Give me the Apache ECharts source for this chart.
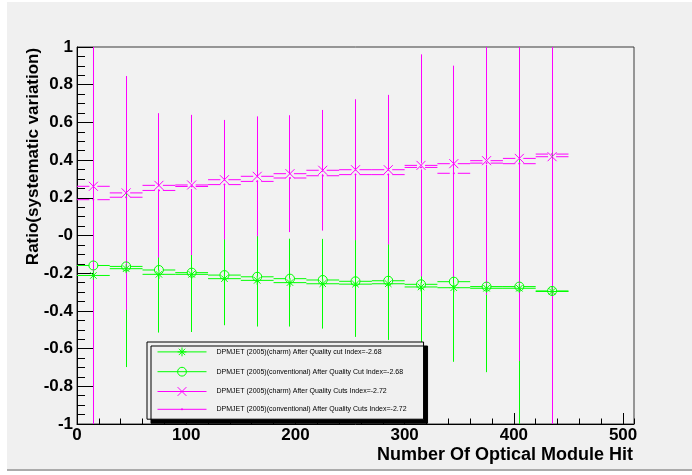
<!DOCTYPE html>
<html>
<head>
<meta charset="utf-8">
<script src="https://cdn.jsdelivr.net/npm/echarts@6/dist/echarts.min.js"></script>
<style>
  html, body { margin: 0; padding: 0; background: #ffffff; }
  #pad { position: absolute; left: 7px; top: 2px; width: 685px; height: 467px;
         background: #f0f0f0; border-bottom: 2px solid #ababab; }
  #chart { position: absolute; left: 0; top: 0; width: 692px; height: 475px; }
</style>
</head>
<body>
<div id="pad"></div>
<div id="chart"></div>
<script>
// Bin centres in number of hit optical modules, with the half width of each bin
const binCenters   = [15, 45, 75, 105, 135, 165, 195, 225, 255, 285, 315, 345, 375, 405, 435];
const binHalfWidth = [15, 15, 15, 15, 15, 15, 15, 15, 15, 15, 15, 15, 15, 15, 15];

// DPMJET (2005) charm, after quality cut, index -2.68
const charmCut68     = [-0.212, -0.176, -0.206, -0.206, -0.229, -0.238, -0.250, -0.256, -0.258, -0.256, -0.273, -0.277, -0.280, -0.280, -0.297];
const charmCut68Err  = [0.55, 0.522, 0.309, 0.306, 0.247, 0.245, 0.233, 0.238, 0.280, 0.298, 0.295, 0.393, 0.445, 0.85, 1.0];
// DPMJET (2005) conventional, after quality cut, index -2.68
const convCut68      = [-0.159, -0.164, -0.183, -0.197, -0.210, -0.219, -0.229, -0.236, -0.243, -0.240, -0.259, -0.245, -0.271, -0.271, -0.294];
const convCut68Err   = [0.08, 0.07, 0.06, 0.07, 0.08, 0.09, 0.10, 0.12, 0.15, 0.18, 0.22, 0.30, 0.40, 0.50, 0.60];
// DPMJET (2005) charm, after quality cuts, index -2.72
const charmCuts72    = [0.261, 0.226, 0.266, 0.268, 0.296, 0.314, 0.328, 0.346, 0.349, 0.349, 0.372, 0.381, 0.397, 0.409, 0.418];
const charmCuts72Err = [1.3, 0.62, 0.383, 0.372, 0.317, 0.318, 0.310, 0.320, 0.374, 0.397, 0.589, 0.520, 0.617, 1.074, 1.5];
// DPMJET (2005) conventional, after quality cuts, index -2.72
const convCuts72     = [0.190, 0.203, 0.239, 0.260, 0.270, 0.287, 0.305, 0.317, 0.323, 0.323, 0.361, 0.330, 0.384, 0.381, 0.432];
const convCuts72Err  = [0.10, 0.08, 0.07, 0.08, 0.09, 0.10, 0.12, 0.15, 0.19, 0.22, 0.28, 0.55, 0.70, 0.90, 1.10];

const seriesNames = [
  'DPMJET (2005)(charm) After Quality cut Index=-2.68',
  'DPMJET (2005)(conventional) After Quality Cut Index=-2.68',
  'DPMJET (2005)(charm) After Quality Cuts Index=-2.72',
  'DPMJET (2005)(conventional) After Quality Cuts Index=-2.72'
];

const xTickLabels = ['0', '100', '200', '300', '400', '500'];
const yTickLabels = ['-1', '-0.8', '-0.6', '-0.4', '-0.2', '-0', '0.2', '0.4', '0.6', '0.8', '1'];

const GREEN = '#00ff00';
const MAGENTA = '#ff00ff';
const FONT = "'Liberation Sans', Arial, Helvetica, sans-serif";

// Marker outlines (stroked, unfilled)
const SYM_STAR   = 'path://M0,-5L0,5M-5,0L5,0M-3.6,-3.6L3.6,3.6M-3.6,3.6L3.6,-3.6';
const SYM_CIRCLE = 'path://M0,-5A5,5 0 1,1 0,5A5,5 0 1,1 0,-5Z';
const SYM_CROSS  = 'path://M-5,-5L5,5M-5,5L5,-5';
const SYM_DOT    = 'path://M-5,-5L-5,-5M5,5L5,5M-0.5,-0.5L0.5,-0.5L0.5,0.5L-0.5,0.5Z';

function points(values) {
  return binCenters.map((x, i) => [x, values[i]]);
}
function errorRows(values, errs) {
  return binCenters.map((x, i) => [x, values[i], binHalfWidth[i], errs[i]]);
}

// Horizontal (bin width) and vertical (statistical) error bars with a gap around the marker
function errorBars(name, color, values, errs) {
  const gap = 4;
  return {
    type: 'custom',
    name: name + ' errors',
    data: errorRows(values, errs),
    clip: true,
    silent: true,
    animation: false,
    renderItem: function (params, api) {
      const x = api.value(0), y = api.value(1), ex = api.value(2), ey = api.value(3);
      const c = api.coord([x, y]);
      const l = api.coord([x - ex, y]);
      const r = api.coord([x + ex, y]);
      const t = api.coord([x, y + ey]);
      const b = api.coord([x, y - ey]);
      const vx = Math.floor(c[0]) + 0.5;   // keep vertical bars on a pixel column
      const style = { stroke: color, lineWidth: 1, fill: null };
      const kids = [];
      if (c[0] - gap > l[0]) kids.push({ type: 'line', shape: { x1: l[0], y1: c[1], x2: c[0] - gap, y2: c[1] }, style });
      if (r[0] > c[0] + gap) kids.push({ type: 'line', shape: { x1: c[0] + gap, y1: c[1], x2: r[0], y2: c[1] }, style });
      if (t[1] < c[1] - gap) kids.push({ type: 'line', shape: { x1: vx, y1: c[1] - gap, x2: vx, y2: t[1] }, style });
      if (b[1] > c[1] + gap) kids.push({ type: 'line', shape: { x1: vx, y1: c[1] + gap, x2: vx, y2: b[1] }, style });
      return { type: 'group', children: kids };
    }
  };
}

function markers(name, color, values, symbol, filled) {
  return {
    type: 'line',
    name: name,
    data: points(values),
    symbol: symbol,
    symbolSize: 9,
    showSymbol: true,
    silent: true,
    animation: false,
    lineStyle: { color: color, width: 1, opacity: 0 },
    itemStyle: { color: filled ? color : 'none', borderColor: color, borderWidth: 1 },
    emphasis: { disabled: true }
  };
}

const chart = echarts.init(document.getElementById('chart'), null, { renderer: 'canvas' });

const axisText = { fontFamily: FONT, fontWeight: 'bold', fontSize: 17, color: '#000' };

chart.setOption({
  backgroundColor: 'transparent',
  animation: false,
  grid: {
    left: 77, top: 47, right: 58, bottom: 51,
    containLabel: false, outerBoundsMode: 'none',
    show: true, backgroundColor: '#f2f2f2', borderColor: '#3a3a3a', borderWidth: 1
  },
  legend: {
    orient: 'vertical',
    left: 147, top: 342,
    data: seriesNames,
    itemWidth: 49, itemHeight: 11, itemGap: 6,
    padding: [3, 17, 5, 10],
    backgroundColor: '#f0f0f0',
    borderColor: '#000', borderWidth: 1,
    shadowColor: '#000', shadowBlur: 0, shadowOffsetX: 4, shadowOffsetY: 4,
    selectedMode: false,
    itemStyle: { borderWidth: 1 },
    lineStyle: { width: 1, opacity: 1 },
    textStyle: { fontFamily: FONT, fontSize: 7, color: '#000', padding: [0, 0, 0, 5] }
  },
  xAxis: [
    {
      type: 'value', min: 0, max: 510, interval: 100, position: 'bottom',
      axisLine: { show: true, onZero: false, lineStyle: { color: '#000', width: 1 } },
      axisTick: { show: true, inside: true, length: 11, lineStyle: { color: '#000', width: 1 } },
      axisLabel: Object.assign({
        margin: 3, showMaxLabel: false, hideOverlap: false,
        formatter: v => xTickLabels[Math.round(v / 100)] || ''
      }, axisText),
      splitLine: { show: false },
      name: 'Number Of Optical Module Hit',
      nameLocation: 'end', nameGap: -1, nameMoveOverlap: false,
      nameTextStyle: Object.assign({ align: 'right', verticalAlign: 'top', padding: [22, 0, 0, 0] }, axisText, { fontSize: 18 })
    },
    {
      type: 'value', min: 0, max: 510, interval: 20, position: 'bottom',
      axisLine: { show: false, onZero: false },
      axisTick: { show: true, inside: true, length: 5.5, lineStyle: { color: '#000', width: 1 } },
      axisLabel: { show: false },
      splitLine: { show: false }
    }
  ],
  yAxis: [
    {
      type: 'value', min: -1, max: 1, interval: 0.2, position: 'left',
      axisLine: { show: true, onZero: false, lineStyle: { color: '#000', width: 1 } },
      axisTick: { show: true, inside: true, length: 16, lineStyle: { color: '#000', width: 1 } },
      axisLabel: Object.assign({
        margin: 4, padding: [4, 0, 0, 0], hideOverlap: false,
        formatter: v => yTickLabels[Math.round((v + 1) / 0.2)] || ''
      }, axisText),
      splitLine: { show: false },
      name: 'Ratio(systematic variation)',
      nameLocation: 'middle', nameGap: 44, nameRotate: 90, nameMoveOverlap: false,
      nameTextStyle: Object.assign({ align: 'center', verticalAlign: 'middle', padding: [0, 0, 0, 158] }, axisText)
    },
    {
      type: 'value', min: -1, max: 1, interval: 0.05, position: 'left',
      axisLine: { show: false, onZero: false },
      axisTick: { show: true, inside: true, length: 8, lineStyle: { color: '#000', width: 1 } },
      axisLabel: { show: false },
      splitLine: { show: false }
    }
  ],
  series: [
    errorBars(seriesNames[0], GREEN, charmCut68, charmCut68Err),
    markers(seriesNames[0], GREEN, charmCut68, SYM_STAR, false),
    errorBars(seriesNames[1], GREEN, convCut68, convCut68Err),
    markers(seriesNames[1], GREEN, convCut68, SYM_CIRCLE, false),
    errorBars(seriesNames[2], MAGENTA, charmCuts72, charmCuts72Err),
    markers(seriesNames[2], MAGENTA, charmCuts72, SYM_CROSS, false),
    errorBars(seriesNames[3], MAGENTA, convCuts72, convCuts72Err),
    markers(seriesNames[3], MAGENTA, convCuts72, SYM_DOT, true)
  ]
});
</script>
</body>
</html>
